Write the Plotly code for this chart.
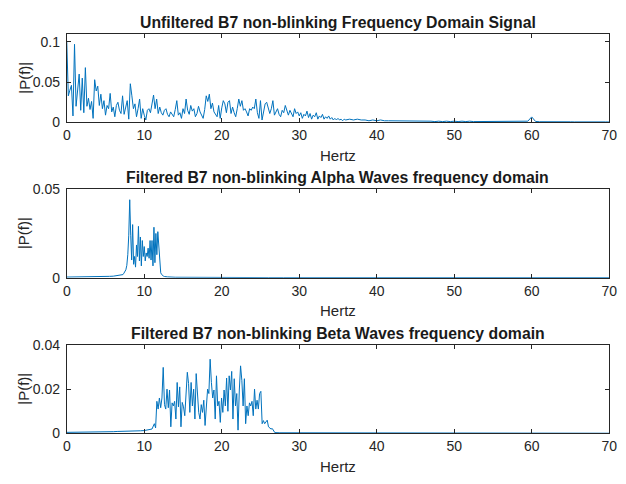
import numpy as np
import plotly.graph_objects as go

# ---- Unfiltered spectrum |P(f)| ----
# 0 - 36 Hz sampled every 0.2 Hz
unfilt_low = [
    0.100, 0.033, 0.040, 0.046, 0.008, 0.097, 0.020, 0.045, 0.060, 0.015,
    0.055, 0.012, 0.068, 0.020, 0.030, 0.016, 0.026, 0.005, 0.053, 0.039,
    0.045, 0.021, 0.035, 0.017, 0.027, 0.009, 0.021, 0.017, 0.036, 0.013,
    0.019, 0.007, 0.021, 0.025, 0.015, 0.011, 0.033, 0.010, 0.020, 0.027,
    0.004, 0.048, 0.033, 0.017, 0.023, 0.007, 0.017, 0.029, 0.005, 0.017,
    0.009, 0.003, 0.015, 0.017, 0.012, 0.026, 0.034, 0.017, 0.029, 0.011,
    0.019, 0.012, 0.009, 0.015, 0.017, 0.010, 0.007, 0.013, 0.009, 0.007,
    0.016, 0.027, 0.009, 0.012, 0.005, 0.017, 0.011, 0.029, 0.015, 0.010,
    0.021, 0.014, 0.017, 0.007, 0.011, 0.020, 0.013, 0.009, 0.005, 0.016,
    0.033, 0.026, 0.035, 0.017, 0.024, 0.013, 0.010, 0.007, 0.021, 0.005,
    0.018, 0.027, 0.023, 0.012, 0.025, 0.027, 0.011, 0.019, 0.012, 0.007,
    0.017, 0.029, 0.020, 0.027, 0.015, 0.017, 0.013, 0.008, 0.017, 0.015,
    0.019, 0.017, 0.029, 0.012, 0.005, 0.027, 0.003, 0.013, 0.023, 0.025,
    0.019, 0.011, 0.017, 0.027, 0.009, 0.013, 0.017, 0.010, 0.007, 0.015,
    0.012, 0.021, 0.014, 0.009, 0.015, 0.010, 0.007, 0.017, 0.011, 0.013,
    0.008, 0.012, 0.005, 0.010, 0.008, 0.014, 0.006, 0.011, 0.004, 0.009,
    0.007, 0.012, 0.004, 0.008, 0.006, 0.010, 0.004, 0.007, 0.005, 0.008,
    0.004, 0.006, 0.003, 0.005, 0.003, 0.005, 0.003, 0.004, 0.002, 0.004,
    0.003,
]
# 36.5 - 70 Hz sampled every 0.5 Hz
unfilt_high = [
    0.004, 0.003, 0.004, 0.003, 0.003, 0.002, 0.003, 0.002, 0.003, 0.002,
    0.002, 0.002, 0.002, 0.002, 0.0015, 0.002, 0.0015, 0.002, 0.0015, 0.0015,
    0.0015, 0.0015, 0.001, 0.0015, 0.001, 0.0015, 0.001, 0.0015, 0.001, 0.0015,
    0.001, 0.0015, 0.001, 0.001, 0.0015, 0.001, 0.001, 0.0012, 0.001, 0.0012,
    0.001, 0.0012, 0.001, 0.0012, 0.001, 0.0012, 0.0015, 0.0068, 0.0012, 0.0008,
    0.0009, 0.0008, 0.0007, 0.0008, 0.0007, 0.0007, 0.0008, 0.0007, 0.0006, 0.0007,
    0.0006, 0.0006, 0.0007, 0.0006, 0.0006, 0.0005, 0.0006, 0.0005,
]

# ---- Alpha band (8-12 Hz) filtered spectrum ----
alpha_base = [  # 0 - 7 Hz, 0.5 Hz step
    0.0004, 0.0004, 0.0004, 0.0004, 0.0004, 0.0005, 0.0005, 0.0005,
    0.0006, 0.0006, 0.0007, 0.0008, 0.0009, 0.0011, 0.0014,
]
alpha_band = [  # 7.25 - 13 Hz, 0.125 Hz step
    0.0018, 0.0026, 0.0033, 0.0045, 0.0070, 0.013, 0.024, 0.044, 0.024, 0.010,
    0.030, 0.0076, 0.012, 0.006, 0.0185, 0.012, 0.029, 0.0095, 0.023, 0.0067,
    0.021, 0.012, 0.0176, 0.0095, 0.014, 0.012, 0.0167, 0.011, 0.021, 0.010,
    0.021, 0.0067, 0.0285, 0.0085, 0.025, 0.013, 0.026, 0.0176, 0.006, 0.0028,
    0.0018, 0.0012, 0.0009, 0.0007, 0.0006, 0.0005, 0.0005,
]
alpha_tail = [  # 14 - 70 Hz, 2 Hz step
    0.0003, 0.0002, 0.0002, 0.00015, 0.00015, 0.00012, 0.0001, 0.0001, 0.0001,
    0.0001, 0.0001, 0.0001, 0.0001, 0.0001, 0.0001, 0.0001, 0.0001, 0.0001,
    0.0001, 0.0001, 0.0001, 0.0001, 0.0001, 0.0001, 0.0001, 0.0001, 0.0001,
    0.0001, 0.0001,
]

# ---- Beta band (12-26 Hz) filtered spectrum ----
beta_base = [  # 0 - 11 Hz, 0.5 Hz step
    0.0005, 0.0005, 0.0005, 0.0005, 0.0006, 0.0006, 0.0006, 0.0007, 0.0007,
    0.0007, 0.0008, 0.0008, 0.0008, 0.0009, 0.0009, 0.0010, 0.0010, 0.0011,
    0.0011, 0.0012, 0.0013, 0.0015, 0.0020,
]
beta_band = [  # 11.3 - 26.85 Hz, evenly spaced
    0.0044, 0.0025, 0.0145, 0.011, 0.016, 0.0116, 0.016, 0.0298, 0.013, 0.011,
    0.020, 0.0116, 0.0196, 0.003, 0.0138, 0.0124, 0.0145, 0.0065, 0.023, 0.012,
    0.021, 0.003, 0.014, 0.012, 0.008, 0.016, 0.0276, 0.0225, 0.0095, 0.023,
    0.0124, 0.020, 0.0065, 0.027, 0.018, 0.0095, 0.0065, 0.013, 0.0095, 0.015,
    0.0036, 0.0124, 0.020, 0.018, 0.0335, 0.023, 0.016, 0.0196, 0.0065, 0.026,
    0.0124, 0.0145, 0.005, 0.016, 0.0095, 0.0196, 0.0124, 0.025, 0.010, 0.026,
    0.0196, 0.028, 0.0065, 0.0247, 0.0124, 0.018, 0.0015, 0.0196, 0.0305, 0.024,
    0.0124, 0.0247, 0.0044, 0.0124, 0.008, 0.0138, 0.0124, 0.0145, 0.008, 0.020,
    0.011, 0.015, 0.011, 0.018, 0.019, 0.0044, 0.0058, 0.0044, 0.005, 0.006,
    0.003, 0.0025, 0.002, 0.0022, 0.001, 0.0004,
]
beta_tail = [  # 27.5 - 70 Hz, 2.5 Hz step
    0.0003, 0.0003, 0.00025, 0.0002, 0.00015, 0.00012, 0.0001, 0.0001, 0.0001,
    0.0001, 0.0001, 0.0001, 0.0001, 0.0001, 0.0001, 0.0001, 0.0001, 0.0001,
]

titles = [
    "Unfiltered B7 non-blinking Frequency Domain Signal",
    "Filtered B7 non-blinking Alpha Waves frequency domain",
    "Filtered B7 non-blinking Beta Waves frequency domain",
]
x_ticks = [0, 10, 20, 30, 40, 50, 60, 70]
y_ticks = [[0, 0.05, 0.1], [0, 0.05], [0, 0.02, 0.04]]
y_tick_text = [["0", "0.05", "0.1"], ["0", "0.05"], ["0", "0.02", "0.04"]]
y_max = [0.11, 0.05, 0.04]

# frequency grids
f_unfilt = np.concatenate([np.arange(len(unfilt_low)) * 0.2,
                           36.5 + np.arange(len(unfilt_high)) * 0.5])
p_unfilt = np.array(unfilt_low + unfilt_high)

f_alpha = np.concatenate([np.arange(len(alpha_base)) * 0.5,
                          7.25 + np.arange(len(alpha_band)) * 0.125,
                          14 + np.arange(len(alpha_tail)) * 2.0])
p_alpha = np.array(alpha_base + alpha_band + alpha_tail)

f_beta = np.concatenate([np.arange(len(beta_base)) * 0.5,
                         np.linspace(11.3, 26.85, len(beta_band)),
                         27.5 + np.arange(len(beta_tail)) * 2.5])
p_beta = np.array(beta_base + beta_band + beta_tail)

W, H = 626, 484
LINE = "#0072BD"
AX = "#262626"
FONT = "Liberation Sans, Arial, Helvetica, sans-serif"
TICK_SIZE = 14
LABEL_SIZE = 15
TITLE_SIZE = 15.8

# axes boxes in pixels (top, bottom)
boxes = [(26.7, 118.3), (187.3, 279.0), (348.3, 440.0)]
x0_px, x1_px = 64, 617

fig = go.Figure()
series = [(f_unfilt, p_unfilt), (f_alpha, p_alpha), (f_beta, p_beta)]
for i, (f, p) in enumerate(series):
    k = "" if i == 0 else str(i + 1)
    fig.add_trace(go.Scatter(x=f, y=p, mode="lines",
                             line=dict(color=LINE, width=1),
                             xaxis="x" + k, yaxis="y" + k,
                             showlegend=False, hoverinfo="skip"))

layout = dict(
    width=W, height=H,
    margin=dict(l=0, r=0, t=0, b=0),
    paper_bgcolor="white", plot_bgcolor="white",
    font=dict(family=FONT, color=AX, size=TICK_SIZE),
    annotations=[],
)
xd = [x0_px / W, x1_px / W]
for i, (top, bot) in enumerate(boxes):
    k = "" if i == 0 else str(i + 1)
    layout["xaxis" + k] = dict(
        domain=xd, range=[0, 70], anchor="y" + k,
        tickvals=x_ticks, ticks="inside", ticklen=4, tickcolor=AX,
        showline=True, linecolor=AX, linewidth=1, mirror="ticks",
        showgrid=False, zeroline=False,
        tickfont=dict(size=TICK_SIZE, color=AX, family=FONT),
    )
    layout["yaxis" + k] = dict(
        domain=[1 - bot / H, 1 - top / H], range=[0, y_max[i]], anchor="x" + k,
        tickvals=y_ticks[i], ticktext=y_tick_text[i],
        ticks="inside", ticklen=4, tickcolor=AX,
        showline=True, linecolor=AX, linewidth=1, mirror="ticks",
        showgrid=False, zeroline=False, ticklabelstandoff=3,
        tickfont=dict(size=TICK_SIZE, color=AX, family=FONT),
    )
    cx = (x0_px + x1_px) / 2 / W
    layout["annotations"] += [
        dict(text="<b>" + titles[i] + "</b>", x=cx, y=1 - (top - 12) / H,
             xref="paper", yref="paper", showarrow=False,
             xanchor="center", yanchor="middle",
             font=dict(size=TITLE_SIZE, color="#1a1a1a", family=FONT)),
        dict(text="Hertz", x=cx, y=1 - (bot + 34) / H,
             xref="paper", yref="paper", showarrow=False,
             xanchor="center", yanchor="middle",
             font=dict(size=LABEL_SIZE, color=AX, family=FONT)),
        dict(text="|P(f)|", x=20 / W, y=1 - (top + bot) / 2 / H,
             xref="paper", yref="paper", showarrow=False, textangle=-90,
             xanchor="center", yanchor="middle",
             font=dict(size=LABEL_SIZE, color=AX, family=FONT)),
    ]

fig.update_layout(**layout)
fig.write_html("out.html")
